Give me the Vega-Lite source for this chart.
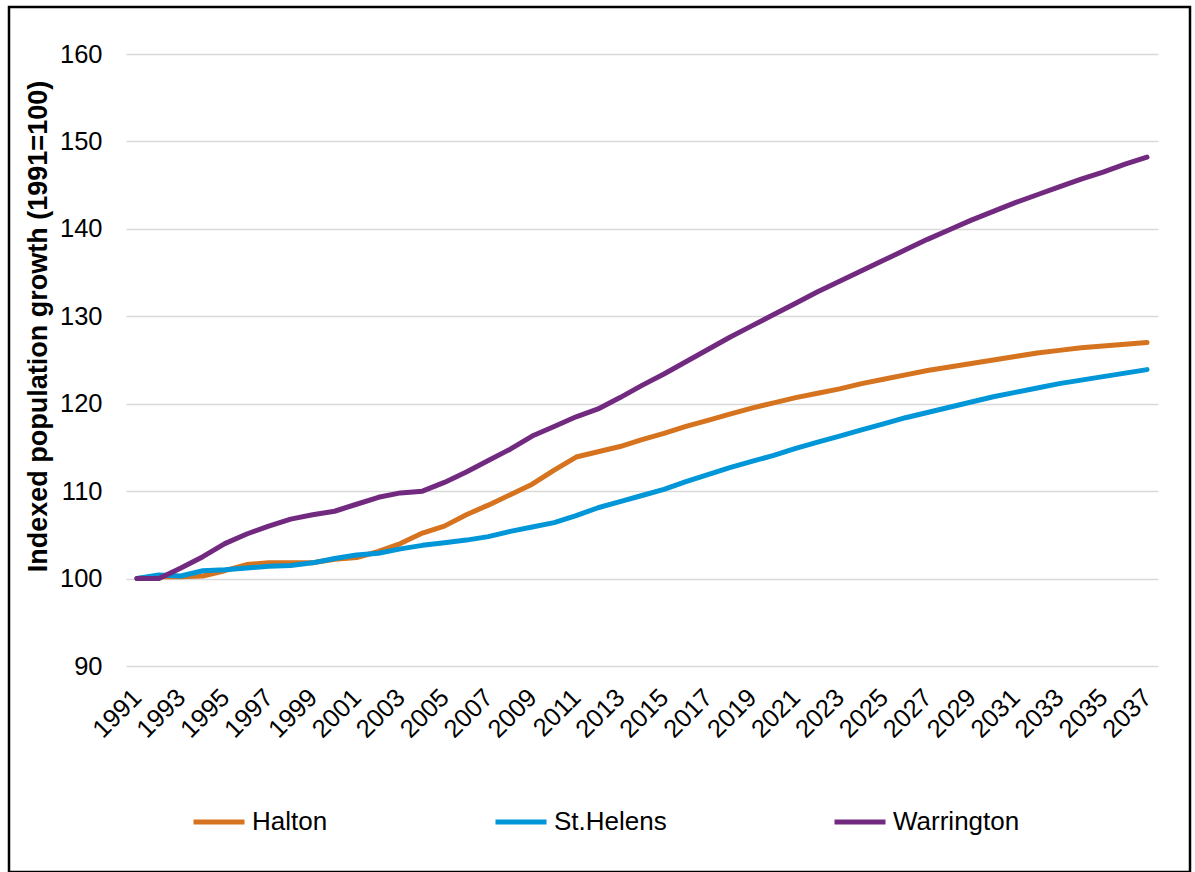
{
  "$schema": "https://vega.github.io/schema/vega-lite/v6.json",
  "width": 1181,
  "height": 865,
  "padding": {"left": 9, "top": 7, "right": 5, "bottom": 0},
  "autosize": {"type": "none"},
  "background": "white",
  "config": {
    "view": {"stroke": "black", "strokeWidth": 2.5},
    "font": "Liberation Sans"
  },
  "datasets": {
    "growth": [
      {"year": 1991, "area": "Halton", "index": 100.0},
      {"year": 1992, "area": "Halton", "index": 100.2},
      {"year": 1993, "area": "Halton", "index": 100.2},
      {"year": 1994, "area": "Halton", "index": 100.3},
      {"year": 1995, "area": "Halton", "index": 100.9},
      {"year": 1996, "area": "Halton", "index": 101.6},
      {"year": 1997, "area": "Halton", "index": 101.8},
      {"year": 1998, "area": "Halton", "index": 101.8},
      {"year": 1999, "area": "Halton", "index": 101.8},
      {"year": 2000, "area": "Halton", "index": 102.2},
      {"year": 2001, "area": "Halton", "index": 102.4},
      {"year": 2002, "area": "Halton", "index": 103.1},
      {"year": 2003, "area": "Halton", "index": 104.0},
      {"year": 2004, "area": "Halton", "index": 105.2},
      {"year": 2005, "area": "Halton", "index": 106.0},
      {"year": 2006, "area": "Halton", "index": 107.3},
      {"year": 2007, "area": "Halton", "index": 108.4},
      {"year": 2008, "area": "Halton", "index": 109.6},
      {"year": 2009, "area": "Halton", "index": 110.8},
      {"year": 2010, "area": "Halton", "index": 112.4},
      {"year": 2011, "area": "Halton", "index": 113.9},
      {"year": 2012, "area": "Halton", "index": 114.5},
      {"year": 2013, "area": "Halton", "index": 115.1},
      {"year": 2014, "area": "Halton", "index": 115.9},
      {"year": 2015, "area": "Halton", "index": 116.6},
      {"year": 2016, "area": "Halton", "index": 117.4},
      {"year": 2017, "area": "Halton", "index": 118.1},
      {"year": 2018, "area": "Halton", "index": 118.8},
      {"year": 2019, "area": "Halton", "index": 119.5},
      {"year": 2020, "area": "Halton", "index": 120.1},
      {"year": 2021, "area": "Halton", "index": 120.7},
      {"year": 2022, "area": "Halton", "index": 121.2},
      {"year": 2023, "area": "Halton", "index": 121.7},
      {"year": 2024, "area": "Halton", "index": 122.3},
      {"year": 2025, "area": "Halton", "index": 122.8},
      {"year": 2026, "area": "Halton", "index": 123.3},
      {"year": 2027, "area": "Halton", "index": 123.8},
      {"year": 2028, "area": "Halton", "index": 124.2},
      {"year": 2029, "area": "Halton", "index": 124.6},
      {"year": 2030, "area": "Halton", "index": 125.0},
      {"year": 2031, "area": "Halton", "index": 125.4},
      {"year": 2032, "area": "Halton", "index": 125.8},
      {"year": 2033, "area": "Halton", "index": 126.1},
      {"year": 2034, "area": "Halton", "index": 126.4},
      {"year": 2035, "area": "Halton", "index": 126.6},
      {"year": 2036, "area": "Halton", "index": 126.8},
      {"year": 2037, "area": "Halton", "index": 127.0},
      {"year": 1991, "area": "St.Helens", "index": 100.0},
      {"year": 1992, "area": "St.Helens", "index": 100.4},
      {"year": 1993, "area": "St.Helens", "index": 100.3},
      {"year": 1994, "area": "St.Helens", "index": 100.9},
      {"year": 1995, "area": "St.Helens", "index": 101.0},
      {"year": 1996, "area": "St.Helens", "index": 101.2},
      {"year": 1997, "area": "St.Helens", "index": 101.4},
      {"year": 1998, "area": "St.Helens", "index": 101.5},
      {"year": 1999, "area": "St.Helens", "index": 101.8},
      {"year": 2000, "area": "St.Helens", "index": 102.3},
      {"year": 2001, "area": "St.Helens", "index": 102.7},
      {"year": 2002, "area": "St.Helens", "index": 102.9},
      {"year": 2003, "area": "St.Helens", "index": 103.4},
      {"year": 2004, "area": "St.Helens", "index": 103.8},
      {"year": 2005, "area": "St.Helens", "index": 104.1},
      {"year": 2006, "area": "St.Helens", "index": 104.4},
      {"year": 2007, "area": "St.Helens", "index": 104.8},
      {"year": 2008, "area": "St.Helens", "index": 105.4},
      {"year": 2009, "area": "St.Helens", "index": 105.9},
      {"year": 2010, "area": "St.Helens", "index": 106.4},
      {"year": 2011, "area": "St.Helens", "index": 107.2},
      {"year": 2012, "area": "St.Helens", "index": 108.1},
      {"year": 2013, "area": "St.Helens", "index": 108.8},
      {"year": 2014, "area": "St.Helens", "index": 109.5},
      {"year": 2015, "area": "St.Helens", "index": 110.2},
      {"year": 2016, "area": "St.Helens", "index": 111.1},
      {"year": 2017, "area": "St.Helens", "index": 111.9},
      {"year": 2018, "area": "St.Helens", "index": 112.7},
      {"year": 2019, "area": "St.Helens", "index": 113.4},
      {"year": 2020, "area": "St.Helens", "index": 114.1},
      {"year": 2021, "area": "St.Helens", "index": 114.9},
      {"year": 2022, "area": "St.Helens", "index": 115.6},
      {"year": 2023, "area": "St.Helens", "index": 116.3},
      {"year": 2024, "area": "St.Helens", "index": 117.0},
      {"year": 2025, "area": "St.Helens", "index": 117.7},
      {"year": 2026, "area": "St.Helens", "index": 118.4},
      {"year": 2027, "area": "St.Helens", "index": 119.0},
      {"year": 2028, "area": "St.Helens", "index": 119.6},
      {"year": 2029, "area": "St.Helens", "index": 120.2},
      {"year": 2030, "area": "St.Helens", "index": 120.8},
      {"year": 2031, "area": "St.Helens", "index": 121.3},
      {"year": 2032, "area": "St.Helens", "index": 121.8},
      {"year": 2033, "area": "St.Helens", "index": 122.3},
      {"year": 2034, "area": "St.Helens", "index": 122.7},
      {"year": 2035, "area": "St.Helens", "index": 123.1},
      {"year": 2036, "area": "St.Helens", "index": 123.5},
      {"year": 2037, "area": "St.Helens", "index": 123.9},
      {"year": 1991, "area": "Warrington", "index": 100.0},
      {"year": 1992, "area": "Warrington", "index": 100.0},
      {"year": 1993, "area": "Warrington", "index": 101.2},
      {"year": 1994, "area": "Warrington", "index": 102.5},
      {"year": 1995, "area": "Warrington", "index": 104.0},
      {"year": 1996, "area": "Warrington", "index": 105.1},
      {"year": 1997, "area": "Warrington", "index": 106.0},
      {"year": 1998, "area": "Warrington", "index": 106.8},
      {"year": 1999, "area": "Warrington", "index": 107.3},
      {"year": 2000, "area": "Warrington", "index": 107.7},
      {"year": 2001, "area": "Warrington", "index": 108.5},
      {"year": 2002, "area": "Warrington", "index": 109.3},
      {"year": 2003, "area": "Warrington", "index": 109.8},
      {"year": 2004, "area": "Warrington", "index": 110.0},
      {"year": 2005, "area": "Warrington", "index": 111.0},
      {"year": 2006, "area": "Warrington", "index": 112.2},
      {"year": 2007, "area": "Warrington", "index": 113.5},
      {"year": 2008, "area": "Warrington", "index": 114.8},
      {"year": 2009, "area": "Warrington", "index": 116.3},
      {"year": 2010, "area": "Warrington", "index": 117.4},
      {"year": 2011, "area": "Warrington", "index": 118.5},
      {"year": 2012, "area": "Warrington", "index": 119.4},
      {"year": 2013, "area": "Warrington", "index": 120.7},
      {"year": 2014, "area": "Warrington", "index": 122.1},
      {"year": 2015, "area": "Warrington", "index": 123.4},
      {"year": 2016, "area": "Warrington", "index": 124.8},
      {"year": 2017, "area": "Warrington", "index": 126.2},
      {"year": 2018, "area": "Warrington", "index": 127.6},
      {"year": 2019, "area": "Warrington", "index": 128.9},
      {"year": 2020, "area": "Warrington", "index": 130.2},
      {"year": 2021, "area": "Warrington", "index": 131.5},
      {"year": 2022, "area": "Warrington", "index": 132.8},
      {"year": 2023, "area": "Warrington", "index": 134.0},
      {"year": 2024, "area": "Warrington", "index": 135.2},
      {"year": 2025, "area": "Warrington", "index": 136.4},
      {"year": 2026, "area": "Warrington", "index": 137.6},
      {"year": 2027, "area": "Warrington", "index": 138.8},
      {"year": 2028, "area": "Warrington", "index": 139.9},
      {"year": 2029, "area": "Warrington", "index": 141.0},
      {"year": 2030, "area": "Warrington", "index": 142.0},
      {"year": 2031, "area": "Warrington", "index": 143.0},
      {"year": 2032, "area": "Warrington", "index": 143.9},
      {"year": 2033, "area": "Warrington", "index": 144.8},
      {"year": 2034, "area": "Warrington", "index": 145.7},
      {"year": 2035, "area": "Warrington", "index": 146.5},
      {"year": 2036, "area": "Warrington", "index": 147.4},
      {"year": 2037, "area": "Warrington", "index": 148.2}
    ]
  },
  "data": {"name": "growth"},
  "mark": {"type": "line", "strokeWidth": 5, "strokeCap": "round", "strokeJoin": "round"},
  "encoding": {
    "x": {
      "field": "year",
      "type": "quantitative",
      "scale": {"domain": [1990.5, 2037.5], "range": [117, 1149], "nice": false, "zero": false},
      "axis": {
        "title": null,
        "values": [1991, 1993, 1995, 1997, 1999, 2001, 2003, 2005, 2007, 2009, 2011, 2013, 2015, 2017, 2019, 2021, 2023, 2025, 2027, 2029, 2031, 2033, 2035, 2037],
        "format": "d",
        "grid": false,
        "ticks": false,
        "domain": false,
        "offset": -206,
        "labelAngle": -45,
        "labelAlign": "right",
        "labelBaseline": "middle",
        "labelPadding": 27,
        "labelFontSize": 25.5,
        "labelColor": "black",
        "labelFlush": false,
        "labelOverlap": false
      }
    },
    "y": {
      "field": "index",
      "type": "quantitative",
      "scale": {"domain": [90, 160], "range": [659, 47], "nice": false, "zero": false},
      "axis": {
        "title": "Indexed population growth (1991=100)",
        "values": [90, 100, 110, 120, 130, 140, 150, 160],
        "grid": true,
        "gridColor": "#D9D9D9",
        "gridWidth": 1.5,
        "ticks": false,
        "domain": false,
        "offset": -117,
        "labelPadding": 24,
        "labelFontSize": 25.5,
        "labelColor": "black",
        "labelFlush": false,
        "titleFontSize": 27,
        "titleFontWeight": "bold",
        "titleColor": "black",
        "titleAngle": -90,
        "titleAlign": "center",
        "titleBaseline": "alphabetic",
        "titleX": -80,
        "titleY": 319
      }
    },
    "color": {
      "field": "area",
      "type": "nominal",
      "scale": {"domain": ["Halton", "St.Helens", "Warrington"], "range": ["#D5731E", "#0096D7", "#722A80"]},
      "legend": {
        "title": null,
        "orient": "none",
        "direction": "horizontal",
        "legendX": 182,
        "legendY": 787,
        "padding": 0,
        "symbolType": "stroke",
        "symbolSize": 2601,
        "symbolStrokeWidth": 5,
        "labelFontSize": 26,
        "labelColor": "black",
        "labelOffset": 5,
        "columnPadding": 157,
        "labelLimit": 400
      }
    }
  }
}
